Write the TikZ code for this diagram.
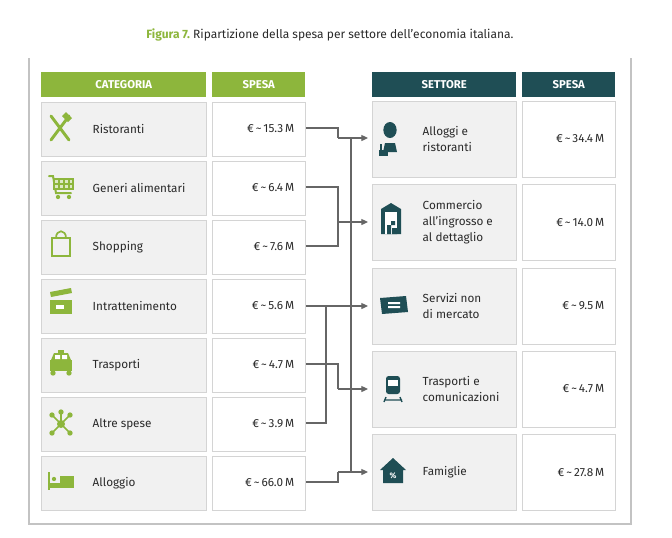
\documentclass[tikz,border=0pt]{standalone}
\usepackage{fontspec}
\setmainfont{Fira Sans}
\usetikzlibrary{arrows.meta}
\definecolor{grn}{HTML}{8DB63C}
\definecolor{teal}{HTML}{1F4E55}
\definecolor{cellbg}{HTML}{F1F1F1}
\definecolor{cellbd}{HTML}{D4D4D4}
\definecolor{txt}{HTML}{2A2A2A}
\definecolor{ln}{HTML}{666666}
\begin{document}
\begin{tikzpicture}[x=0.75pt,y=-0.75pt,
 hdr/.style={minimum height=18.75pt,anchor=north west,inner sep=0,text=white,font=\fontsize{8.5}{10}\selectfont\bfseries},
 cat/.style={draw=cellbd,line width=0.8pt,fill=cellbg,anchor=north west,minimum width=123.75pt,minimum height=40.5pt,inner sep=0},
 val/.style={draw=cellbd,line width=0.8pt,fill=white,anchor=north west,minimum width=69.75pt,minimum height=40.5pt,inner sep=0},
 sec/.style={draw=cellbd,line width=0.8pt,fill=cellbg,anchor=north west,minimum width=108pt,minimum height=57pt,inner sep=0},
 sval/.style={draw=cellbd,line width=0.8pt,fill=white,anchor=north west,minimum width=69.75pt,minimum height=57pt,inner sep=0},
 lbl/.style={anchor=west,text=txt,font=\fontsize{8.8}{12}\selectfont,align=left},
 num/.style={anchor=east,text=txt,font=\fontsize{8.8}{11}\selectfont},
 conn/.style={draw=ln,line width=0.9pt},
 arr/.style={conn,-{Triangle[length=5pt,width=4.5pt]}}]
\useasboundingbox (0,0) rectangle (672,537);
\fill[white] (0,0) rectangle (672,537);
\node (title) at (330,35) {\fontsize{9}{11}\selectfont\textcolor{grn}{\bfseries Figura 7.}~\textcolor{txt}{Ripartizione della spesa per settore dell'economia italiana.}};
\draw[cellbd!80!gray,line width=0.9pt] (29,58) -- (29,524) -- (631,524) -- (631,58);
% headers
\node[hdr,fill=grn,minimum width=123.75pt] (hc) at (41,72) {CATEGORIA};
\node[hdr,fill=grn,minimum width=69.75pt] (hs) at (212,72) {SPESA};
\node[hdr,fill=teal,minimum width=108pt] (hse) at (372,72) {SETTORE};
\node[hdr,fill=teal,minimum width=69.75pt] (hs2) at (522,72) {SPESA};
% left rows
\foreach \i/\n/\v in {0/Ristoranti/15.3,1/Generi alimentari/6.4,2/Shopping/7.6,3/Intrattenimento/5.6,4/Trasporti/4.7,5/Altre spese/3.9,6/Alloggio/66.0}{
 \node[cat] (c\i) at (41,{102+59*\i}) {};
 \node[lbl] at (88,{129+59*\i}) {\n};
 \node[val] (v\i) at (212,{102+59*\i}) {};
 \node[num] (n\i) at (299,{129+59*\i}) {€\,\char`~\,\v\,M};
}
% right rows
\foreach \i/\n/\v in {0/{Alloggi e\\ristoranti}/34.4,1/{Commercio\\all’ingrosso e\\al dettaglio}/14.0,2/{Servizi non\\di mercato}/9.5,3/{Trasporti e\\comunicazioni}/4.7,4/Famiglie/27.8}{
 \node[sec] (s\i) at (372,{101+83.3*\i}) {};
 \node[lbl] at (418,{139+83.3*\i}) {\n};
 \node[sval] (w\i) at (522,{101+83.3*\i}) {};
 \node[num] (m\i) at (609,{139+83.3*\i}) {€\,\char`~\,\v\,M};
}
% connector coordinates
\coordinate (a0) at (368,138); \coordinate (a1) at (368,222); \coordinate (a2) at (368,306);
\coordinate (a3) at (368,389); \coordinate (a4) at (368,472);
\draw[conn] (v0.east |- 0,128) -- (338,128) -- (338,138);
\draw[arr] (338,138) -- (a0);
\draw[conn] (v1.east |- 0,187) -- (338,187) -- (338,246) -- (v2.east |- 0,246);
\draw[arr] (338,222) -- (a1);
\draw[arr] (v3.east |- 0,306) -- (a2);
\draw[conn] (v5.east |- 0,423) -- (326,423) -- (326,306);
\draw[conn] (v4.east |- 0,364) -- (338,364) -- (338,389);
\draw[arr] (338,389) -- (a3);
\draw[conn] (v6.east |- 0,482) -- (338,482) -- (338,472);
\draw[arr] (338,472) -- (a4);
\draw[conn] (351,138) -- (351,472);
% left icons (green)
\begin{scope}[grn,line width=2.2pt,line cap=round]
 \draw (51,116) -- (69,140); \draw (69,116) -- (51,140);
 \fill (66,112) -- (72,118) -- (68,122) -- (62,116) -- cycle;
 \draw[line width=1.5pt] (49,176) -- (53,176) -- (56,193) -- (71,193);
 \draw[line width=1.2pt,fill=grn!30] (54,179) rectangle (73,189);
 \draw[line width=1pt] (59,179) -- (59,189) (64,179) -- (64,189) (69,179) -- (69,189) (54,184) -- (73,184);
 \fill (58,197) circle (1.6pt) (69,197) circle (1.6pt);
 \draw[line width=1.3pt] (52,238) rectangle (70,256);
 \draw[line width=1.3pt] (56,238) .. controls (56,229) and (66,229) .. (66,238);
 \fill (50,300) rectangle (72,314);
 \fill (50,292) -- (71,288) -- (72,293) -- (51,297) -- cycle;
 \fill[white] (56,305) rectangle (64,309);
 \fill (50,360) rectangle (72,371);
 \fill (54,353) -- (68,353) -- (71,360) -- (51,360) -- cycle;
 \fill (58,350) rectangle (64,353);
 \fill[white] (55,355) rectangle (60,359) (62,355) rectangle (67,359);
 \fill (53,373) circle (2pt) (69,373) circle (2pt);
 \draw[line width=1.2pt] (61,424) -- (52,415) (61,424) -- (70,415) (61,424) -- (52,433) (61,424) -- (70,433) (61,424) -- (61,412);
 \fill (61,424) circle (3pt) (52,415) circle (2pt) (70,415) circle (2pt) (52,433) circle (2pt) (70,433) circle (2pt) (61,412) circle (2pt);
 \fill (48,472) rectangle (50,490);
 \fill (50,483) rectangle (74,488);
 \fill (60,476) rectangle (74,483);
 \fill (54,479) circle (1.6pt);
\end{scope}
% right icons (teal)
\begin{scope}[teal]
 \fill (390,130) ellipse (5pt and 6pt);
 \fill (383,152) -- (385,143) -- (395,143) -- (397,152) -- cycle;
 \fill (379,150) rectangle (388,156);
 \fill (380,144) rectangle (382,150);
 \fill (381,209) -- (391,203) -- (401,209) -- (401,234) -- (381,234) -- cycle;
 \fill[white] (385,212) rectangle (397,234);
 \fill (387,225) rectangle (391,234) (392,228) rectangle (397,234) (391,221) rectangle (395,225);
 \fill (380,298) -- (406,296) -- (408,312) -- (382,314) -- cycle;
 \fill[white] (388,302) rectangle (400,304) (388,306) rectangle (400,308);
 \fill[rounded corners=2pt] (386,376) rectangle (400,394);
 \fill[white] (388,380) rectangle (398,386);
 \draw[line width=1pt] (384,400) -- (402,400) (386,397) -- (384,402) (400,397) -- (402,402);
 \fill (380,470) -- (393,458) -- (406,470) -- (403,470) -- (403,483) -- (383,483) -- (383,470) -- cycle;
 \node[white,font=\fontsize{6}{6}\selectfont\bfseries,inner sep=0] (pct) at (393,476) {\%};
\end{scope}
\end{tikzpicture}
\end{document}
